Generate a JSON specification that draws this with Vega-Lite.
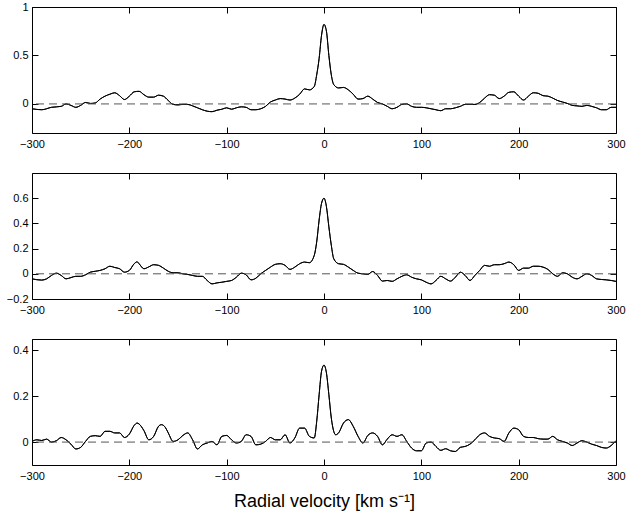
{
"$schema":"https://vega.github.io/schema/vega-lite/v6.json",
"padding":{"left":5,"top":0,"right":3,"bottom":3},
"background":"white",
"config":{"view":{"stroke":"black","strokeWidth":1},"font":"Liberation Sans",
"axis":{"labelFont":"Liberation Sans","labelFontSize":11,"labelColor":"black","tickColor":"black","tickSize":-6,"grid":false,"domain":false,"format":"~f","labelFlush":false,"labelOverlap":false,"title":null,"titleFont":"Liberation Sans"},
"axisBottom":{"labelPadding":11},"axisLeft":{"labelPadding":10}},
"datasets":{
"p1":[{"v":-300,"c":-0.05},{"v":-290,"c":-0.06},{"v":-280,"c":-0.035},{"v":-270,"c":-0.025},{"v":-265,"c":0.0},{"v":-260,"c":-0.015},{"v":-255,"c":-0.035},{"v":-250,"c":-0.015},{"v":-245,"c":0.015},{"v":-240,"c":0.005},{"v":-235,"c":0.01},{"v":-230,"c":0.05},{"v":-225,"c":0.08},{"v":-220,"c":0.1},{"v":-215,"c":0.115},{"v":-210,"c":0.085},{"v":-205,"c":0.045},{"v":-200,"c":0.08},{"v":-195,"c":0.125},{"v":-190,"c":0.13},{"v":-185,"c":0.095},{"v":-180,"c":0.07},{"v":-175,"c":0.07},{"v":-170,"c":0.09},{"v":-165,"c":0.08},{"v":-160,"c":0.035},{"v":-155,"c":-0.005},{"v":-150,"c":-0.01},{"v":-145,"c":-0.005},{"v":-140,"c":-0.005},{"v":-135,"c":-0.02},{"v":-130,"c":-0.04},{"v":-125,"c":-0.06},{"v":-120,"c":-0.075},{"v":-115,"c":-0.08},{"v":-110,"c":-0.065},{"v":-105,"c":-0.055},{"v":-100,"c":-0.04},{"v":-95,"c":-0.055},{"v":-90,"c":-0.04},{"v":-85,"c":-0.03},{"v":-80,"c":-0.035},{"v":-75,"c":-0.06},{"v":-70,"c":-0.06},{"v":-65,"c":-0.05},{"v":-60,"c":-0.025},{"v":-55,"c":0.02},{"v":-50,"c":0.04},{"v":-45,"c":0.055},{"v":-40,"c":0.05},{"v":-35,"c":0.04},{"v":-30,"c":0.06},{"v":-25,"c":0.1},{"v":-20,"c":0.155},{"v":-15,"c":0.145},{"v":-10,"c":0.18},{"v":-7.5,"c":0.3},{"v":-5,"c":0.47},{"v":-2.5,"c":0.71},{"v":0,"c":0.82},{"v":2.5,"c":0.75},{"v":5,"c":0.5},{"v":7.5,"c":0.3},{"v":10,"c":0.2},{"v":15,"c":0.165},{"v":20,"c":0.17},{"v":25,"c":0.145},{"v":30,"c":0.1},{"v":35,"c":0.05},{"v":40,"c":0.055},{"v":45,"c":0.08},{"v":50,"c":0.05},{"v":55,"c":0.015},{"v":60,"c":0.0},{"v":65,"c":-0.025},{"v":70,"c":-0.05},{"v":75,"c":-0.035},{"v":80,"c":-0.005},{"v":85,"c":0.0},{"v":90,"c":-0.025},{"v":95,"c":-0.035},{"v":100,"c":-0.035},{"v":105,"c":-0.04},{"v":110,"c":-0.05},{"v":115,"c":-0.06},{"v":120,"c":-0.07},{"v":125,"c":-0.05},{"v":130,"c":-0.05},{"v":135,"c":-0.04},{"v":140,"c":-0.025},{"v":145,"c":-0.005},{"v":150,"c":-0.005},{"v":155,"c":-0.005},{"v":160,"c":0.015},{"v":165,"c":0.06},{"v":170,"c":0.095},{"v":175,"c":0.09},{"v":180,"c":0.055},{"v":185,"c":0.08},{"v":190,"c":0.12},{"v":195,"c":0.125},{"v":200,"c":0.08},{"v":205,"c":0.04},{"v":210,"c":0.08},{"v":215,"c":0.115},{"v":220,"c":0.11},{"v":225,"c":0.085},{"v":230,"c":0.08},{"v":235,"c":0.06},{"v":240,"c":0.035},{"v":245,"c":0.02},{"v":250,"c":0.005},{"v":255,"c":-0.015},{"v":260,"c":-0.02},{"v":265,"c":-0.025},{"v":270,"c":-0.015},{"v":275,"c":-0.025},{"v":280,"c":-0.04},{"v":285,"c":-0.06},{"v":290,"c":-0.06},{"v":295,"c":-0.035},{"v":300,"c":-0.035}],
"p2":[{"v":-300,"c":-0.04},{"v":-290,"c":-0.05},{"v":-285,"c":-0.04},{"v":-280,"c":-0.013},{"v":-275,"c":0.005},{"v":-270,"c":-0.013},{"v":-265,"c":-0.04},{"v":-260,"c":-0.03},{"v":-255,"c":-0.02},{"v":-250,"c":-0.02},{"v":-245,"c":-0.008},{"v":-240,"c":0.013},{"v":-235,"c":0.02},{"v":-230,"c":0.027},{"v":-225,"c":0.04},{"v":-220,"c":0.06},{"v":-215,"c":0.05},{"v":-210,"c":0.04},{"v":-205,"c":0.013},{"v":-200,"c":0.027},{"v":-195,"c":0.08},{"v":-192,"c":0.095},{"v":-190,"c":0.08},{"v":-185,"c":0.04},{"v":-180,"c":0.055},{"v":-175,"c":0.072},{"v":-170,"c":0.067},{"v":-165,"c":0.045},{"v":-160,"c":0.02},{"v":-155,"c":0.008},{"v":-150,"c":0.008},{"v":-145,"c":0.0},{"v":-140,"c":-0.005},{"v":-135,"c":-0.013},{"v":-130,"c":-0.02},{"v":-125,"c":-0.02},{"v":-120,"c":-0.053},{"v":-115,"c":-0.08},{"v":-110,"c":-0.072},{"v":-105,"c":-0.067},{"v":-100,"c":-0.06},{"v":-95,"c":-0.053},{"v":-90,"c":-0.027},{"v":-85,"c":0.005},{"v":-80,"c":-0.008},{"v":-75,"c":-0.048},{"v":-70,"c":-0.035},{"v":-65,"c":0.0},{"v":-60,"c":0.027},{"v":-55,"c":0.053},{"v":-50,"c":0.075},{"v":-45,"c":0.08},{"v":-40,"c":0.067},{"v":-35,"c":0.035},{"v":-30,"c":0.053},{"v":-25,"c":0.08},{"v":-20,"c":0.093},{"v":-15,"c":0.088},{"v":-10,"c":0.147},{"v":-7.5,"c":0.253},{"v":-5,"c":0.427},{"v":-2.5,"c":0.56},{"v":0,"c":0.6},{"v":2.5,"c":0.533},{"v":5,"c":0.373},{"v":7.5,"c":0.227},{"v":10,"c":0.12},{"v":15,"c":0.08},{"v":20,"c":0.075},{"v":25,"c":0.053},{"v":30,"c":0.027},{"v":35,"c":0.005},{"v":40,"c":0.0},{"v":45,"c":-0.005},{"v":50,"c":0.018},{"v":55,"c":-0.013},{"v":60,"c":-0.058},{"v":65,"c":-0.053},{"v":70,"c":-0.06},{"v":75,"c":-0.04},{"v":80,"c":-0.02},{"v":85,"c":-0.008},{"v":90,"c":-0.027},{"v":95,"c":-0.04},{"v":100,"c":-0.048},{"v":105,"c":-0.067},{"v":110,"c":-0.08},{"v":115,"c":-0.053},{"v":120,"c":-0.02},{"v":125,"c":-0.04},{"v":130,"c":-0.058},{"v":135,"c":-0.027},{"v":140,"c":0.013},{"v":145,"c":-0.013},{"v":150,"c":-0.053},{"v":155,"c":-0.013},{"v":160,"c":0.027},{"v":165,"c":0.067},{"v":170,"c":0.06},{"v":175,"c":0.072},{"v":180,"c":0.072},{"v":185,"c":0.08},{"v":190,"c":0.093},{"v":195,"c":0.072},{"v":200,"c":0.027},{"v":205,"c":0.045},{"v":210,"c":0.045},{"v":215,"c":0.06},{"v":220,"c":0.06},{"v":225,"c":0.053},{"v":230,"c":0.035},{"v":235,"c":0.0},{"v":240,"c":-0.02},{"v":245,"c":0.008},{"v":250,"c":0.0},{"v":255,"c":-0.027},{"v":260,"c":-0.04},{"v":265,"c":-0.02},{"v":270,"c":0.0},{"v":275,"c":-0.013},{"v":280,"c":-0.04},{"v":285,"c":-0.045},{"v":290,"c":-0.048},{"v":295,"c":-0.053},{"v":300,"c":-0.06}],
"p3":[{"v":-300,"c":0.003},{"v":-295,"c":0.01},{"v":-290,"c":0.007},{"v":-285,"c":0.013},{"v":-280,"c":0.0},{"v":-275,"c":0.006},{"v":-270,"c":0.02},{"v":-265,"c":0.01},{"v":-260,"c":-0.009},{"v":-255,"c":-0.03},{"v":-250,"c":-0.023},{"v":-245,"c":0.003},{"v":-240,"c":0.025},{"v":-235,"c":0.028},{"v":-230,"c":0.025},{"v":-225,"c":0.047},{"v":-220,"c":0.047},{"v":-215,"c":0.04},{"v":-210,"c":0.04},{"v":-205,"c":0.02},{"v":-200,"c":0.035},{"v":-195,"c":0.073},{"v":-192,"c":0.083},{"v":-190,"c":0.079},{"v":-185,"c":0.05},{"v":-180,"c":0.01},{"v":-175,"c":0.025},{"v":-170,"c":0.069},{"v":-167,"c":0.076},{"v":-163,"c":0.064},{"v":-160,"c":0.04},{"v":-155,"c":0.003},{"v":-150,"c":0.01},{"v":-145,"c":0.029},{"v":-140,"c":0.04},{"v":-135,"c":0.01},{"v":-130,"c":-0.03},{"v":-125,"c":-0.012},{"v":-120,"c":-0.004},{"v":-115,"c":0.003},{"v":-110,"c":-0.012},{"v":-105,"c":0.025},{"v":-100,"c":0.029},{"v":-95,"c":0.01},{"v":-90,"c":-0.004},{"v":-85,"c":0.003},{"v":-80,"c":0.032},{"v":-75,"c":0.025},{"v":-70,"c":-0.012},{"v":-65,"c":-0.009},{"v":-60,"c":0.003},{"v":-55,"c":0.02},{"v":-50,"c":0.01},{"v":-45,"c":0.01},{"v":-40,"c":0.032},{"v":-35,"c":-0.004},{"v":-30,"c":0.018},{"v":-25,"c":0.061},{"v":-20,"c":0.061},{"v":-15,"c":0.025},{"v":-10,"c":0.018},{"v":-7.5,"c":0.09},{"v":-5,"c":0.207},{"v":-2.5,"c":0.31},{"v":0,"c":0.336},{"v":2.5,"c":0.302},{"v":5,"c":0.207},{"v":7.5,"c":0.105},{"v":10,"c":0.047},{"v":12,"c":0.032},{"v":15,"c":0.04},{"v":20,"c":0.083},{"v":25,"c":0.098},{"v":30,"c":0.069},{"v":35,"c":0.025},{"v":40,"c":-0.004},{"v":45,"c":0.029},{"v":50,"c":0.04},{"v":55,"c":0.025},{"v":60,"c":-0.012},{"v":65,"c":0.013},{"v":70,"c":0.032},{"v":75,"c":0.025},{"v":80,"c":0.032},{"v":85,"c":0.003},{"v":90,"c":-0.026},{"v":95,"c":-0.038},{"v":100,"c":-0.038},{"v":105,"c":-0.004},{"v":110,"c":0.0},{"v":115,"c":-0.019},{"v":120,"c":-0.036},{"v":125,"c":-0.029},{"v":130,"c":-0.038},{"v":135,"c":-0.041},{"v":140,"c":-0.023},{"v":145,"c":-0.019},{"v":150,"c":-0.009},{"v":155,"c":0.01},{"v":160,"c":0.032},{"v":165,"c":0.04},{"v":170,"c":0.025},{"v":175,"c":0.018},{"v":180,"c":0.015},{"v":185,"c":0.003},{"v":190,"c":0.04},{"v":195,"c":0.061},{"v":200,"c":0.054},{"v":205,"c":0.025},{"v":210,"c":0.02},{"v":215,"c":0.02},{"v":220,"c":0.015},{"v":225,"c":0.013},{"v":230,"c":0.013},{"v":235,"c":0.025},{"v":240,"c":0.01},{"v":245,"c":0.003},{"v":250,"c":-0.004},{"v":255,"c":-0.015},{"v":260,"c":-0.004},{"v":265,"c":0.006},{"v":270,"c":0.0},{"v":275,"c":-0.009},{"v":280,"c":-0.015},{"v":285,"c":-0.023},{"v":290,"c":-0.026},{"v":295,"c":-0.015},{"v":300,"c":0.006}]
},
"vconcat":[
{"width":584,"height":126,
"layer":[
{"data":{"name":"p1"},"mark":{"type":"line","color":"black","strokeWidth":1,"interpolate":"monotone"},
"encoding":{"x":{"field":"v","type":"quantitative","scale":{"domain":[-300,300],"nice":false},"axis":{"orient":"bottom","values":[-300,-200,-100,0,100,200,300]}},
"y":{"field":"c","type":"quantitative","scale":{"domain":[-0.3,1],"nice":false,"zero":false},"axis":{"orient":"left","values":[0,0.5,1]}}}},
{"data":{"name":"p1"},"mark":{"type":"line","color":"black","strokeWidth":1,"interpolate":"monotone"},
"encoding":{"x":{"field":"v","type":"quantitative","axis":{"orient":"top","labels":false,"values":[-300,-200,-100,0,100,200,300]}},
"y":{"field":"c","type":"quantitative","axis":{"orient":"right","labels":false,"values":[0,0.5,1]}}}},
{"data":{"values":[{"z":0}]},"mark":{"type":"rule","color":"#555555","strokeWidth":1,"strokeDash":[8,5]},"encoding":{"y":{"datum":0,"axis":null}}}
],
"resolve":{"axis":{"x":"independent","y":"independent"}}},
{"width":584,"height":126,
"layer":[
{"data":{"name":"p2"},"mark":{"type":"line","color":"black","strokeWidth":1,"interpolate":"monotone"},
"encoding":{"x":{"field":"v","type":"quantitative","scale":{"domain":[-300,300],"nice":false},"axis":{"orient":"bottom","values":[-300,-200,-100,0,100,200,300]}},
"y":{"field":"c","type":"quantitative","scale":{"domain":[-0.2,0.8],"nice":false,"zero":false},"axis":{"orient":"left","values":[-0.2,0,0.2,0.4,0.6]}}}},
{"data":{"name":"p2"},"mark":{"type":"line","color":"black","strokeWidth":1,"interpolate":"monotone"},
"encoding":{"x":{"field":"v","type":"quantitative","axis":{"orient":"top","labels":false,"values":[-300,-200,-100,0,100,200,300]}},
"y":{"field":"c","type":"quantitative","axis":{"orient":"right","labels":false,"values":[-0.2,0,0.2,0.4,0.6]}}}},
{"data":{"values":[{"z":0}]},"mark":{"type":"rule","color":"#555555","strokeWidth":1,"strokeDash":[8,5]},"encoding":{"y":{"datum":0,"axis":null}}}
],
"resolve":{"axis":{"x":"independent","y":"independent"}}},
{"width":584,"height":126,
"layer":[
{"data":{"name":"p3"},"mark":{"type":"line","color":"black","strokeWidth":1,"interpolate":"monotone"},
"encoding":{"x":{"field":"v","type":"quantitative","scale":{"domain":[-300,300],"nice":false},"axis":{"orient":"bottom","values":[-300,-200,-100,0,100,200,300],"title":"Radial velocity [km s⁻¹]","titleFontSize":18,"titleFontWeight":"normal","titleColor":"black","titlePadding":11}},
"y":{"field":"c","type":"quantitative","scale":{"domain":[-0.1,0.45],"nice":false,"zero":false},"axis":{"orient":"left","values":[0,0.2,0.4]}}}},
{"data":{"name":"p3"},"mark":{"type":"line","color":"black","strokeWidth":1,"interpolate":"monotone"},
"encoding":{"x":{"field":"v","type":"quantitative","axis":{"orient":"top","labels":false,"values":[-300,-200,-100,0,100,200,300]}},
"y":{"field":"c","type":"quantitative","axis":{"orient":"right","labels":false,"values":[0,0.2,0.4]}}}},
{"data":{"values":[{"z":0}]},"mark":{"type":"rule","color":"#555555","strokeWidth":1,"strokeDash":[8,5]},"encoding":{"y":{"datum":0,"axis":null}}}
],
"resolve":{"axis":{"x":"independent","y":"independent"}}}
],
"spacing":40,
"bounds":"flush"
}
